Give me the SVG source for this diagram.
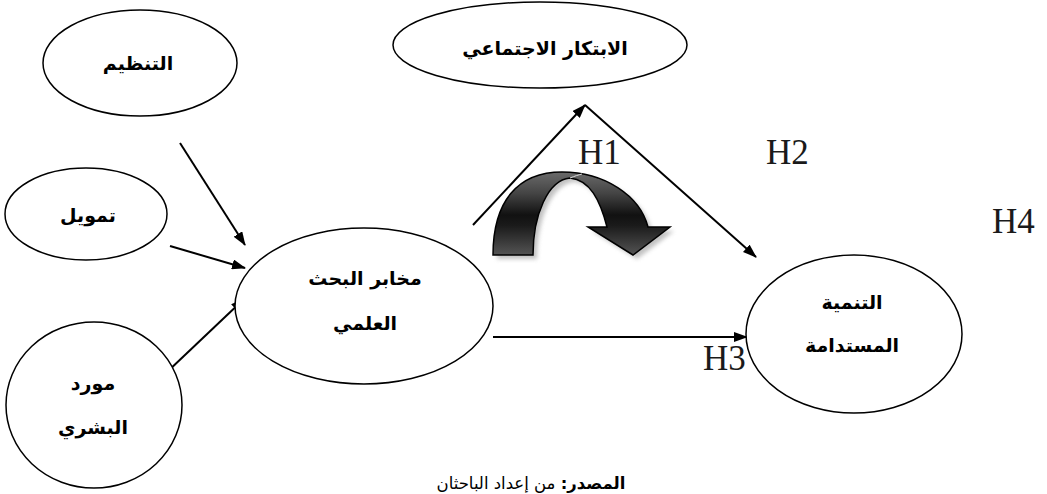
<svg xmlns="http://www.w3.org/2000/svg" width="1047" height="494" viewBox="0 0 1047 494">
<style>
.node{fill:#fff;stroke:#000;stroke-width:1.5}
.ar{font-family:"DejaVu Sans","Noto Sans",sans-serif;font-weight:bold;font-size:19px;fill:#000;text-anchor:middle;direction:rtl}
.h{font-family:"Liberation Serif","Times New Roman",serif;font-size:35px;fill:#1a1a1a}
.cn{stroke:#000;stroke-width:2;fill:none;marker-end:url(#ah)}
.src{font-family:"DejaVu Sans","Noto Sans",sans-serif;font-size:16.5px;fill:#000;text-anchor:middle;direction:rtl}
</style>
<defs>
<marker id="ah" viewBox="0 0 14 10" refX="13" refY="5" markerWidth="14" markerHeight="10" markerUnits="userSpaceOnUse" orient="auto">
<path d="M0,0 L14,5 L0,10 Z" fill="#000"/>
</marker>
<linearGradient id="g" x1="0" y1="172" x2="0" y2="258" gradientUnits="userSpaceOnUse">
<stop offset="0" stop-color="#6a6a6a"/>
<stop offset="0.25" stop-color="#444"/>
<stop offset="0.5" stop-color="#111"/>
<stop offset="0.62" stop-color="#1a1a1a"/>
<stop offset="1" stop-color="#5a5a5a"/>
</linearGradient>
<filter id="blur" x="-20%" y="-20%" width="140%" height="140%"><feGaussianBlur stdDeviation="2"/></filter>
</defs>
<rect width="1047" height="494" fill="#fff"/>

<g id="connectors">
<line class="cn" x1="180" y1="143" x2="245" y2="245"/>
<line class="cn" x1="170" y1="246" x2="245" y2="268"/>
<line class="cn" x1="166" y1="373" x2="244" y2="299"/>
<line class="cn" x1="473" y1="225" x2="585" y2="105"/>
<line class="cn" x1="585" y1="105" x2="756" y2="257"/>
<line class="cn" x1="493" y1="337" x2="747" y2="337"/>
</g>

<g id="curved-arrow">
<path d="M497,259 C497,205 522,176 566,176 C609,176 644,200 652,231 L674,231 L637,259 L592,231 L611,231 C604,204 594,184 574,182 C552,184 537,219 537,259 Z" fill="#999" opacity="0.6" filter="url(#blur)"/>
<path d="M493,255 C493,201 518,172 562,172 C605,172 640,196 648,227 L670,227 L633,255 L588,227 L607,227 C600,200 590,180 570,178 C548,180 533,215 533,255 Z" fill="url(#g)" stroke="#000" stroke-width="1.5" stroke-linejoin="miter"/>
<path d="M570,178 C575,176 578,175 582,174" stroke="#ddd" stroke-width="1" fill="none"/>
</g>

<g id="n-tanzim">
<ellipse class="node" cx="140" cy="63" rx="97" ry="53"/>
<text class="ar" x="138" y="70">التنظيم</text>
</g>

<g id="n-tamwil">
<ellipse class="node" cx="86" cy="214" rx="81" ry="46"/>
<text class="ar" x="88" y="222">تمويل</text>
</g>

<g id="n-mawrid">
<ellipse class="node" cx="94" cy="405" rx="88" ry="83"/>
<text class="ar" x="93" y="390">مورد</text>
<text class="ar" x="93" y="434">البشري</text>
</g>

<g id="n-makhabir">
<ellipse class="node" cx="364" cy="306" rx="129" ry="78"/>
<text class="ar" x="365" y="285">مخابر البحث</text>
<text class="ar" x="365" y="330">العلمي</text>
</g>

<g id="n-ibtikar">
<ellipse class="node" cx="540" cy="45" rx="147" ry="43"/>
<text class="ar" x="545" y="55">الابتكار الاجتماعي</text>
</g>

<g id="n-tanmiya">
<ellipse class="node" cx="854" cy="334" rx="108" ry="79"/>
<text class="ar" x="852" y="309">التنمية</text>
<text class="ar" x="852" y="352">المستدامة</text>
</g>

<g id="labels">
<text class="h" x="578" y="164">H1</text>
<text class="h" x="766" y="164">H2</text>
<text class="h" x="703" y="370">H3</text>
<text class="h" x="992" y="233">H4</text>
</g>

<text class="src" x="531" y="489"><tspan font-weight="bold">المصدر:</tspan> من إعداد الباحثان</text>
</svg>
